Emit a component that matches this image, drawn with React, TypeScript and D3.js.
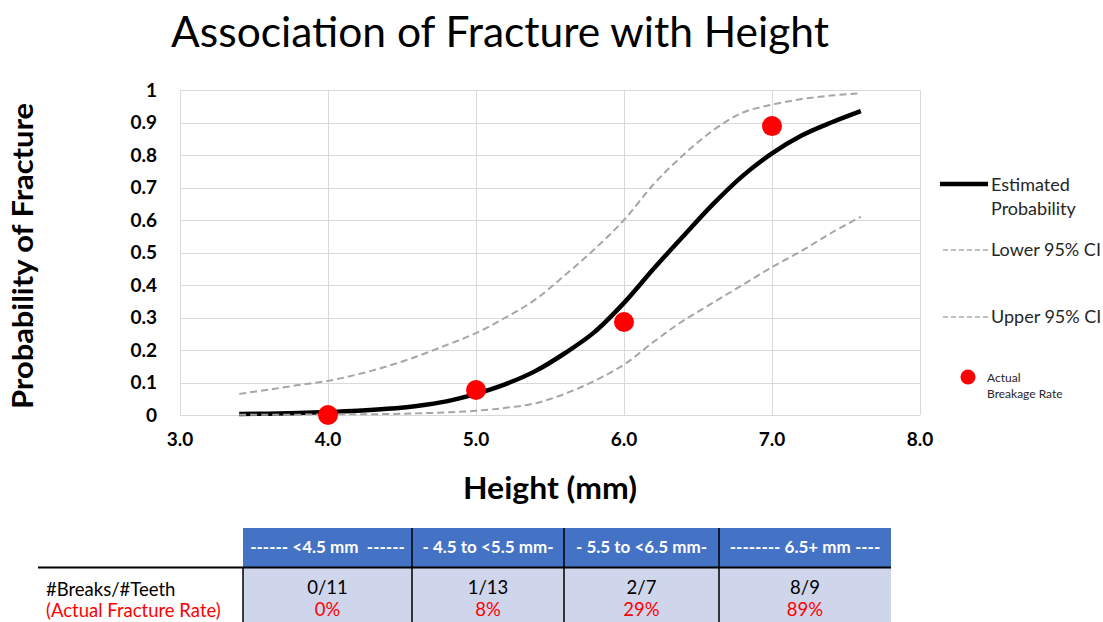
import React from 'react';
import * as d3 from 'd3';

// curve samples (height in mm -> probability)
const heights = [3.4, 3.6, 3.8, 4.0, 4.2, 4.4, 4.6, 4.8, 5.0, 5.2, 5.4, 5.6, 5.8, 6.0, 6.2, 6.4, 6.6, 6.8, 7.0, 7.2, 7.4, 7.6];
const estimated = [0.003, 0.004, 0.006, 0.009, 0.013, 0.019, 0.028, 0.042, 0.065, 0.095, 0.135, 0.19, 0.255, 0.345, 0.45, 0.55, 0.648, 0.735, 0.805, 0.86, 0.9, 0.935];
const lowerCI = [0.001, 0.001, 0.001, 0.002, 0.002, 0.003, 0.005, 0.008, 0.013, 0.022, 0.036, 0.065, 0.105, 0.155, 0.225, 0.29, 0.345, 0.4, 0.455, 0.505, 0.56, 0.61];
const upperCI = [0.065, 0.078, 0.092, 0.105, 0.125, 0.15, 0.18, 0.215, 0.252, 0.3, 0.355, 0.43, 0.51, 0.6, 0.71, 0.8, 0.875, 0.93, 0.955, 0.972, 0.983, 0.99];

// actual breakage rate points
const actualHeights = [4.0, 5.0, 6.0, 7.0];
const actualRates = [0, 0.077, 0.286, 0.889];

const xTicks = [3, 4, 5, 6, 7, 8];
const yTicks = [0, 0.1, 0.2, 0.3, 0.4, 0.5, 0.6, 0.7, 0.8, 0.9, 1];

// table below the chart
const groups = ['------ <4.5 mm  ------', '- 4.5 to <5.5 mm-', '- 5.5 to <6.5 mm-', '-------- 6.5+ mm ----'];
const breaks = [0, 1, 2, 8];
const teeth = [11, 13, 7, 9];
const rateLabels = ['0%', '8%', '29%', '89%'];

const FONT = 'Lato, Carlito, Calibri, sans-serif';
const RED = '#ff0000';

export default function App() {
  const W = 1103;
  const H = 622;
  const plot = { left: 180, right: 920, top: 90, bottom: 415 };

  const x = d3.scaleLinear().domain([3, 8]).range([plot.left, plot.right]);
  const y = d3.scaleLinear().domain([0, 1]).range([plot.bottom, plot.top]);

  const mk = (vals: number[]) =>
    d3.line<number>()
      .x((_, i) => x(heights[i]))
      .y(d => y(d))
      .curve(d3.curveCatmullRom.alpha(0.5))(vals) || '';

  // table layout
  const colEdges = [243, 412, 564, 719, 891];
  const headTop = 528;
  const headBot = 567;
  const rowBot = 622;

  return (
    <svg width={W} height={H} style={{ position: 'absolute', left: 0, top: 0, display: 'block', background: '#fff' }}
      fontFamily={FONT}>
      <text x={500} y={47} textAnchor="middle" fontSize={42.5} fill="#000">Association of Fracture with Height</text>

      {/* grid */}
      <g stroke="#d9d9d9" strokeWidth={1}>
        {yTicks.map(t => (
          <line key={'gy' + t} x1={plot.left} x2={plot.right} y1={Math.round(y(t)) + 0.5} y2={Math.round(y(t)) + 0.5} />
        ))}
        {xTicks.map(t => (
          <line key={'gx' + t} x1={Math.round(x(t)) + 0.5} x2={Math.round(x(t)) + 0.5} y1={plot.top} y2={plot.bottom} />
        ))}
      </g>

      {/* y ticks */}
      {yTicks.map(t => (
        <text key={'ty' + t} x={157} y={y(t)} dy="0.35em" textAnchor="end" fontSize={19} fontWeight="bold" fill="#000">
          {t === 0 || t === 1 ? String(t) : t.toFixed(1)}
        </text>
      ))}
      {/* x ticks */}
      {xTicks.map(t => (
        <text key={'tx' + t} x={x(t)} y={446} textAnchor="middle" fontSize={19} fontWeight="bold" fill="#000">
          {t.toFixed(1)}
        </text>
      ))}

      <text transform="translate(33,256) rotate(-90)" textAnchor="middle" fontSize={28} fontWeight="bold" fill="#000"
        textLength={306} lengthAdjust="spacingAndGlyphs">
        Probability of Fracture
      </text>
      <text x={550} y={499} textAnchor="middle" fontSize={30} fontWeight="bold" fill="#000"
        textLength={174} lengthAdjust="spacingAndGlyphs">Height (mm)</text>

      {/* series */}
      <path d={mk(estimated)} fill="none" stroke="#000" strokeWidth={4.5} strokeLinejoin="round" />
      <path d={mk(lowerCI)} fill="none" stroke="#a6a6a6" strokeWidth={2} strokeDasharray="7,4" />
      <path d={mk(upperCI)} fill="none" stroke="#a6a6a6" strokeWidth={2} strokeDasharray="7,4" />
      {actualHeights.map((h, i) => (
        <circle key={'pt' + h} cx={x(h)} cy={y(actualRates[i])} r={10} fill={RED} />
      ))}

      {/* legend */}
      <g fill="#262626" fontSize={18}>
        <line x1={940} x2={988} y1={184} y2={184} stroke="#000" strokeWidth={4.5} />
        <text x={991} y={191}>Estimated</text>
        <text x={991} y={215}>Probability</text>
        <line x1={943} x2={990} y1={250} y2={250} stroke="#bfbfbf" strokeWidth={2} strokeDasharray="5,3" />
        <text x={991} y={256}>Lower 95% CI</text>
        <line x1={943} x2={990} y1={317} y2={317} stroke="#bfbfbf" strokeWidth={2} strokeDasharray="5,3" />
        <text x={991} y={323}>Upper 95% CI</text>
        <circle cx={968} cy={377} r={7.5} fill={RED} />
        <text x={987} y={382} fontSize={12}>Actual</text>
        <text x={987} y={398} fontSize={12}>Breakage Rate</text>
      </g>

      {/* table */}
      <g>
        {groups.map((g, i) => (
          <g key={'col' + i}>
            <rect x={colEdges[i]} y={headTop} width={colEdges[i + 1] - colEdges[i]} height={headBot - headTop} fill="#4472c4" />
            <rect x={colEdges[i]} y={headBot} width={colEdges[i + 1] - colEdges[i]} height={rowBot - headBot} fill="#cfd5ea" />
            <text x={(colEdges[i] + colEdges[i + 1]) / 2} y={553} textAnchor="middle" fontSize={17} fontWeight="bold"
              fill="#fff" style={{ whiteSpace: 'pre' }}>
              {g}
            </text>
            <text x={(colEdges[i] + colEdges[i + 1]) / 2} y={594} textAnchor="middle" fontSize={18.5} fill="#000">
              {breaks[i]}/{teeth[i]}
            </text>
            <text x={(colEdges[i] + colEdges[i + 1]) / 2} y={616} textAnchor="middle" fontSize={18.5} fill={RED}>
              {rateLabels[i]}
            </text>
          </g>
        ))}
        <line x1={38} x2={colEdges[4]} y1={567.5} y2={567.5} stroke="#000" strokeWidth={2} />
        {colEdges.slice(0, 4).map((e, i) => (
          <line key={'v' + i} x1={e} x2={e} y1={i === 0 ? headBot : headTop} y2={rowBot} stroke="#000" strokeWidth={1.5} />
        ))}
        <text x={46} y={596} fontSize={18.5} fill="#000">#Breaks/#Teeth</text>
        <text x={46} y={617} fontSize={18.5} fill={RED}>(Actual Fracture Rate)</text>
      </g>
    </svg>
  );
}
